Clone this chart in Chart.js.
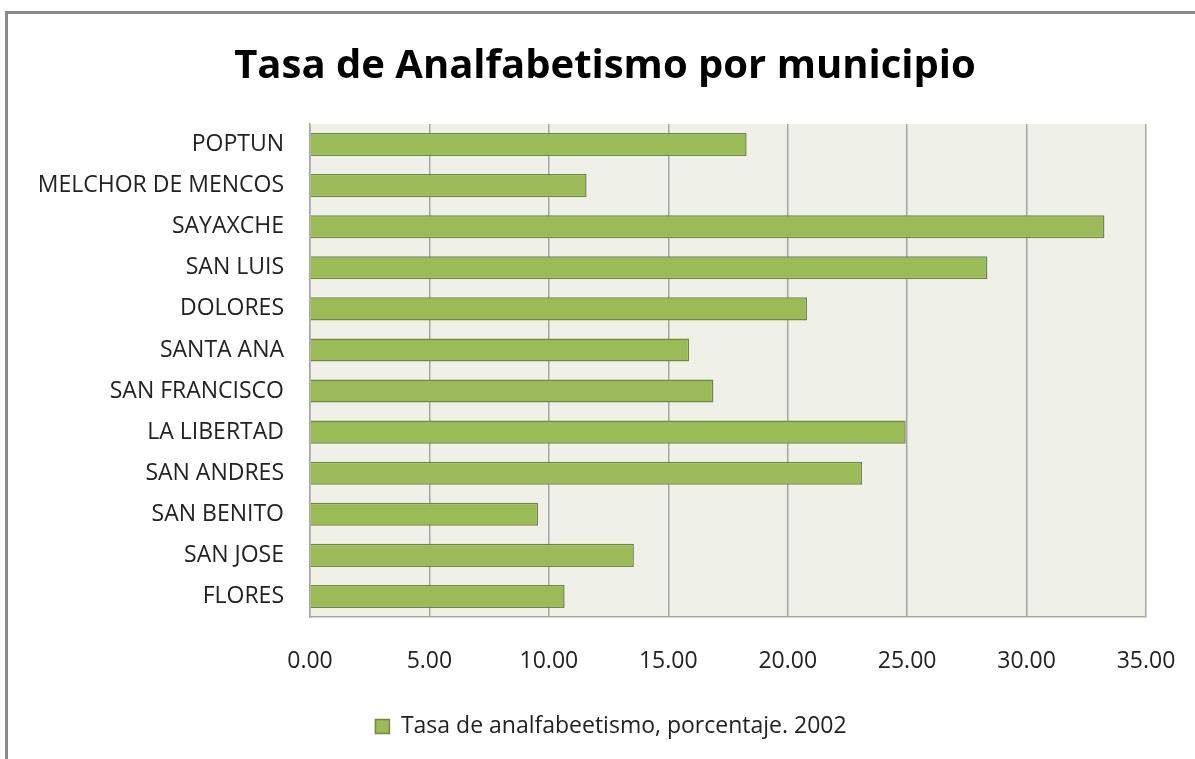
<!DOCTYPE html>
<html>
<head>
<meta charset="utf-8">
<script src="https://cdn.jsdelivr.net/npm/chart.js@4"></script>
<style>
  html, body { margin: 0; padding: 0; background: #fff; }
  #wrap { position: relative; width: 1195px; height: 759px; }
</style>
</head>
<body>
<div id="wrap"><canvas id="chartTasa" width="1195" height="759"></canvas></div>
<script>
const municipios = [
    'POPTUN',
    'MELCHOR DE MENCOS',
    'SAYAXCHE',
    'SAN LUIS',
    'DOLORES',
    'SANTA ANA',
    'SAN FRANCISCO',
    'LA LIBERTAD',
    'SAN ANDRES',
    'SAN BENITO',
    'SAN JOSE',
    'FLORES',
];
const tasa2002 = [18.28, 11.58, 33.26, 28.36, 20.81, 15.87, 16.89, 24.94, 23.11, 9.55, 13.56, 10.66];
const xTicks = [0, 5, 10, 15, 20, 25, 30, 35];

const fuente = '"Open Sans", Lato, sans-serif';

// fondo blanco, marco del grafico y fondo del area de trazado
const fondo = {
    id: 'fondo',
    afterLayout(chart) {
        // titulo y leyenda algo corridos a la derecha, como en el original
        chart.titleBlock.left += 32;
        chart.titleBlock.right += 32;
        chart.legend.left += 38;
        chart.legend.right += 38;
    },
    beforeDraw(chart) {
        const {ctx, chartArea: a} = chart;
        ctx.save();
        ctx.fillStyle = '#ffffff';
        ctx.fillRect(0, 0, chart.width, chart.height);
        ctx.strokeStyle = '#8a8a8a';
        ctx.lineWidth = 3;
        ctx.beginPath();
        ctx.moveTo(6.5, chart.height + 5);
        ctx.lineTo(6.5, 12.5);
        ctx.lineTo(chart.width + 5, 12.5);
        ctx.stroke();
        ctx.fillStyle = '#eff1e9';
        ctx.fillRect(a.left, a.top, a.right - a.left, a.bottom - a.top);
        ctx.restore();
    }
};

new Chart(document.getElementById('chartTasa'), {
    type: 'bar',
    data: {
        labels: municipios,
        datasets: [{
            label: 'Tasa de analfabeetismo, porcentaje. 2002',
            data: tasa2002,
            backgroundColor: '#9bbb59',
            borderColor: '#71893f',
            borderWidth: 1.5,
            barPercentage: 0.56,
            categoryPercentage: 1,
        }]
    },
    options: {
        indexAxis: 'y',
        responsive: false,
        animation: false,
        layout: {padding: {left: 0, right: 49, top: 0, bottom: 11}},
        plugins: {
            title: {
                display: true,
                text: 'Tasa de Analfabetismo por municipio',
                color: '#000',
                font: {family: fuente, size: 40, weight: 'bold'},
                padding: {top: 43, bottom: 33},
            },
            legend: {
                position: 'bottom',
                labels: {
                    color: '#222',
                    font: {family: fuente, size: 23},
                    boxWidth: 14,
                    boxHeight: 14,
                    padding: 10,
                },
            },
            tooltip: {enabled: false},
        },
        scales: {
            x: {
                min: 0,
                max: 35,
                afterBuildTicks: (axis) => { axis.ticks = xTicks.map(v => ({value: v})); },
                afterFit: (axis) => {
                    axis.height = 88;
                    axis.paddingLeft = 0;
                    axis.paddingRight = 0;
                },
                grid: {color: '#a6a6a6', lineWidth: 1.5, drawTicks: false},
                border: {display: true, color: '#a6a6a6', width: 1.5},
                ticks: {
                    color: '#222',
                    font: {family: fuente, size: 23},
                    padding: 31,
                    callback: (v) => Number(v).toFixed(2),
                },
            },
            y: {
                afterFit: (axis) => {
                    axis.width = 310;
                    axis.paddingTop = 0;
                    axis.paddingBottom = 0;
                },
                grid: {display: false, drawTicks: false},
                border: {display: true, color: '#a6a6a6', width: 1.5},
                ticks: {
                    color: '#222',
                    font: {family: fuente, size: 23},
                    padding: 26,
                },
            },
        },
    },
    plugins: [fondo],
});
</script>
</body>
</html>
